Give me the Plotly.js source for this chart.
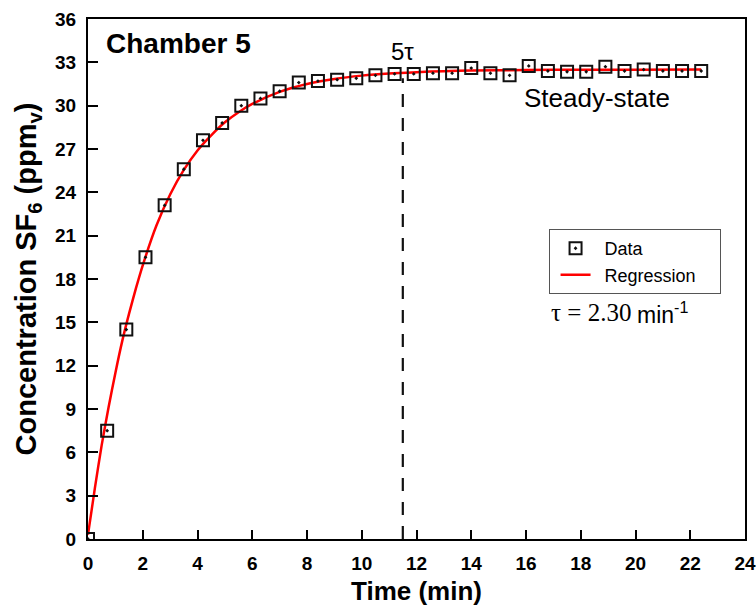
<!DOCTYPE html>
<html>
<head>
<meta charset="utf-8">
<script src="https://cdn.plot.ly/plotly-3.0.1.min.js"></script>
<style>html,body{margin:0;padding:0;background:#fff;}#chart{width:756px;height:607px;}</style>
</head>
<body>
<div id="chart"></div>
<script>
// Measured data (time in min, concentration in ppmv)
var dataTime = [0, 0.7, 1.4, 2.1, 2.8, 3.5, 4.2, 4.9, 5.6, 6.3, 7.0, 7.7, 8.4, 9.1, 9.8, 10.5, 11.2,
                11.9, 12.6, 13.3, 14.0, 14.7, 15.4, 16.1, 16.8, 17.5, 18.2, 18.9, 19.6, 20.3, 21.0, 21.7, 22.4];
var dataConc = [0, 7.5, 14.5, 19.5, 23.1, 25.6, 27.6, 28.8, 30.0, 30.5, 31.0, 31.6, 31.7, 31.8, 31.9, 32.1, 32.2,
                32.2, 32.25, 32.25, 32.6, 32.25, 32.1, 32.75, 32.4, 32.35, 32.35, 32.7, 32.4, 32.5, 32.4, 32.4, 32.4];

// Regression curve
var regTime = [0, 0.25, 0.5, 0.75, 1.0, 1.25, 1.5, 1.75, 2.0, 2.5, 3.0, 3.5, 4.0, 4.5, 5.0, 5.5, 6.0,
               7, 8, 9, 10, 11, 12, 13, 14, 16, 18, 20, 22.4];
var regConc = [0.3, 3.5, 6.5, 9.1, 11.5, 13.7, 15.6, 17.35, 18.95, 21.7, 23.85, 25.55, 26.9, 27.95, 28.85, 29.55, 30.12,
               30.95, 31.5, 31.85, 32.08, 32.23, 32.32, 32.39, 32.43, 32.47, 32.49, 32.49, 32.5];

// 5 tau marker
var fiveTau = 11.5;
var fiveTauTop = 31.9;

var xTicks = [0, 2, 4, 6, 8, 10, 12, 14, 16, 18, 20, 22, 24];
var yTicks = [0, 3, 6, 9, 12, 15, 18, 21, 24, 27, 30, 33, 36];

var FONT = 'Liberation Sans, Arial, sans-serif';
var SERIF = 'Liberation Serif, Times New Roman, serif';

var traces = [
  {
    x: [fiveTau, fiveTau], y: [0, fiveTauTop],
    mode: 'lines', showlegend: false, hoverinfo: 'skip',
    line: {color: '#111', width: 2.2, dash: '13px,11px'}
  },
  {
    x: regTime, y: regConc, name: '\u2002Regression\u2002\u2002',
    mode: 'lines', line: {color: '#ff0000', width: 2.5, shape: 'spline', smoothing: 0.6}
  },
  {
    x: dataTime, y: dataConc, name: '\u2002Data',
    mode: 'markers',
    marker: {symbol: 'square-open-dot', size: 12, color: '#111', line: {width: 2, color: '#111'}}
  }
];

var layout = {
  width: 756, height: 607,
  margin: {l: 88, r: 11, t: 19, b: 68},
  paper_bgcolor: '#fff', plot_bgcolor: '#fff',
  font: {family: FONT, color: '#000'},
  showlegend: true,
  legend: {
    x: 0.701, y: 0.596, xanchor: 'left', yanchor: 'top',
    traceorder: 'reversed',
    bordercolor: '#555', borderwidth: 1, bgcolor: '#fff',
    font: {family: FONT, size: 18, color: '#000'},
    indentation: 6
  },
  xaxis: {
    range: [0, 24], tickvals: xTicks, ticktext: xTicks.map(String),
    ticks: 'inside', ticklen: 9, tickwidth: 2, tickcolor: '#000',
    showline: true, linewidth: 2, linecolor: '#000', mirror: true,
    showgrid: false, zeroline: false,
    tickfont: {family: FONT, size: 19, color: '#000', weight: 'bold'},
    ticklabelstandoff: 6,
    title: {text: '<b>Time (min)</b>', font: {family: FONT, size: 26, color: '#000'}, standoff: 9}
  },
  yaxis: {
    range: [0, 36], tickvals: yTicks, ticktext: yTicks.map(String),
    ticks: 'inside', ticklen: 10, tickwidth: 2, tickcolor: '#000',
    showline: true, linewidth: 2, linecolor: '#000', mirror: true,
    showgrid: false, zeroline: false,
    tickfont: {family: FONT, size: 19, color: '#000', weight: 'bold'},
    ticklabelstandoff: 6,
    title: {text: '<b>Concentration SF<sub>6</sub> (ppm<sub>v</sub>)</b>', font: {family: FONT, size: 29, color: '#000'}, standoff: 10}
  },
  annotations: [
    {x: 0.6, y: 34.28, xref: 'x', yref: 'y', xanchor: 'left', yanchor: 'middle', showarrow: false,
     text: '<b>Chamber 5</b>', font: {family: FONT, size: 28, color: '#000'}},
    {x: fiveTau, y: 33.75, xref: 'x', yref: 'y', xanchor: 'center', yanchor: 'middle', showarrow: false,
     text: '5τ', font: {family: FONT, size: 24, color: '#000'}},
    {x: 15.85, y: 30.5, xref: 'x', yref: 'y', xanchor: 'left', yanchor: 'middle', showarrow: false,
     text: 'Steady-state', font: {family: FONT, size: 26, color: '#000'}},
    {x: 16.84, y: 15.65, xref: 'x', yref: 'y', xanchor: 'left', yanchor: 'middle', showarrow: false,
     text: 'τ = 2.30', font: {family: SERIF, size: 25, color: '#000'}},
    {x: 19.98, y: 15.68, xref: 'x', yref: 'y', xanchor: 'left', yanchor: 'middle', showarrow: false,
     text: 'min<sup>-1</sup>', font: {family: FONT, size: 23, color: '#000'}}
  ]
};

Plotly.newPlot('chart', traces, layout, {displayModeBar: false, staticPlot: true});
</script>
</body>
</html>
